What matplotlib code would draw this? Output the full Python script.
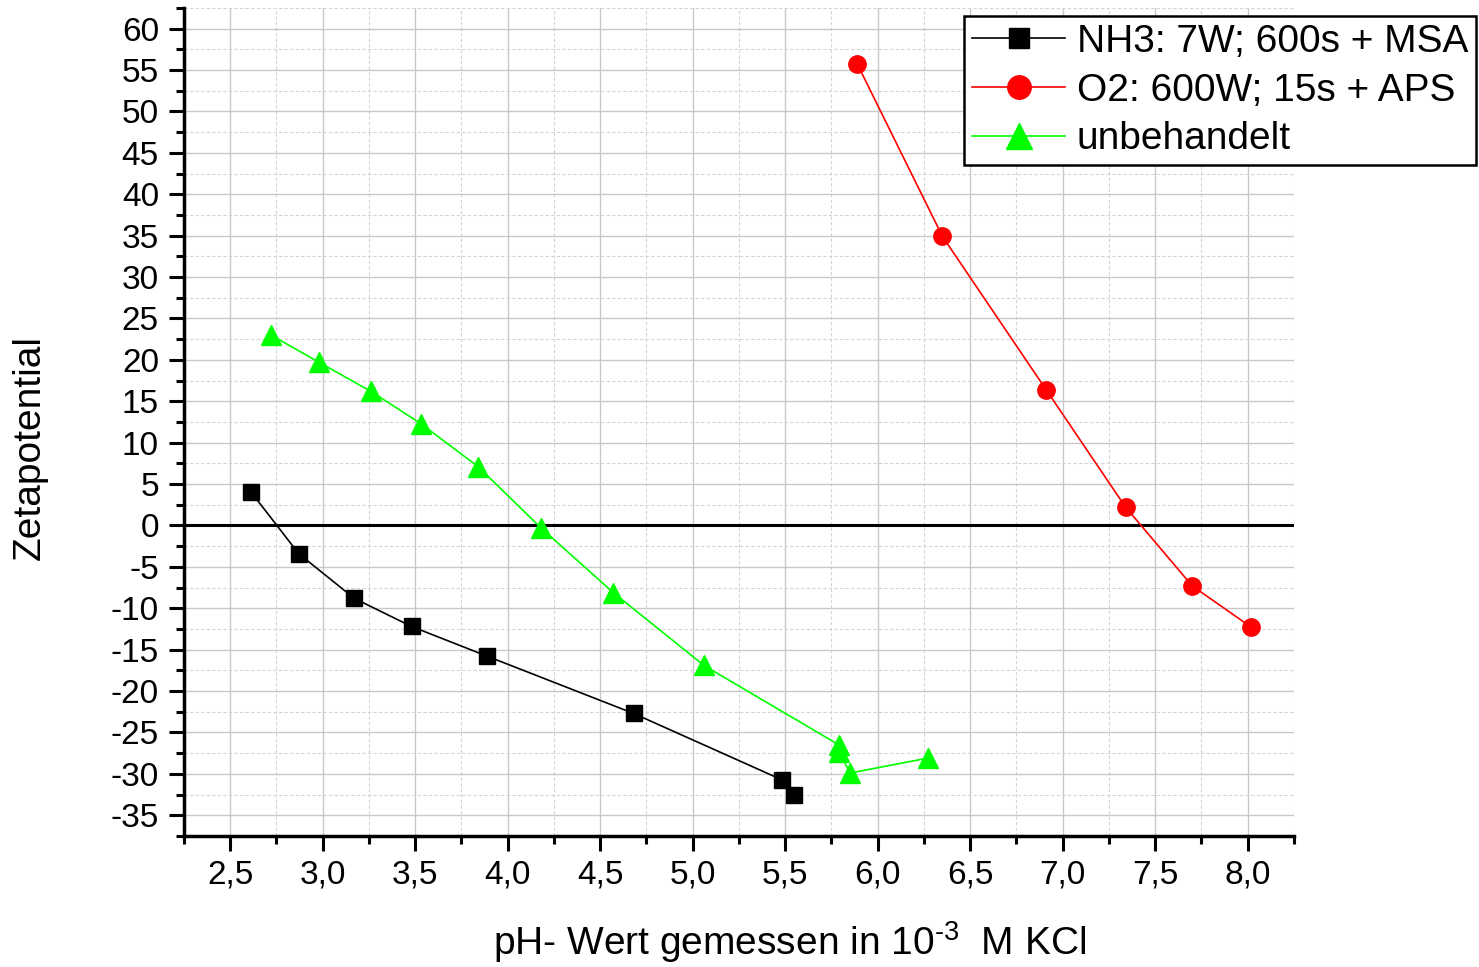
import matplotlib
matplotlib.use('Agg')
import matplotlib.pyplot as plt
from matplotlib.ticker import MultipleLocator, FuncFormatter

plt.rcParams['font.family'] = ['Liberation Sans', 'DejaVu Sans']
plt.rcParams['mathtext.fontset'] = 'custom'
plt.rcParams['mathtext.rm'] = 'Liberation Sans'
plt.rcParams['mathtext.it'] = 'Liberation Sans:italic'

# NH3: 7W; 600s + MSA
nh3_x = [2.61, 2.87, 3.17, 3.48, 3.89, 4.68, 5.48, 5.55]
nh3_y = [4.1, -3.4, -8.8, -12.2, -15.8, -22.7, -30.7, -32.5]

# O2: 600W; 15s + APS
o2_x = [5.89, 6.35, 6.91, 7.34, 7.70, 8.02]
o2_y = [55.7, 34.9, 16.4, 2.2, -7.3, -12.3]

# unbehandelt
unb_x = [2.72, 2.98, 3.26, 3.53, 3.84, 4.18, 4.57, 5.06, 5.79, 5.79, 5.85, 6.27]
unb_y = [23.0, 19.7, 16.2, 12.3, 7.1, -0.3, -8.1, -16.9, -26.5, -27.3, -29.9, -28.1]

fig = plt.figure(figsize=(14.79, 9.67), dpi=100)
ax = fig.add_axes([0.1244, 0.1355, 0.7505, 0.8563])

ax.plot(nh3_x, nh3_y, color='black', lw=1.2, marker='s', ms=11,
        label='NH3: 7W; 600s + MSA', zorder=4)
ax.plot(o2_x, o2_y, color='red', lw=1.2, marker='o', ms=12.5,
        label='O2: 600W; 15s + APS', zorder=4)
ax.plot(unb_x, unb_y, color='#00ff00', lw=1.2, marker='^', ms=14,
        label='unbehandelt', zorder=4)

ax.axhline(0, color='black', lw=2.2, zorder=3)

ax.set_xlim(2.25, 8.25)
ax.set_ylim(-37.5, 62.5)
ax.xaxis.set_major_locator(MultipleLocator(0.5))
ax.xaxis.set_minor_locator(MultipleLocator(0.25))
ax.yaxis.set_major_locator(MultipleLocator(5))
ax.yaxis.set_minor_locator(MultipleLocator(2.5))
ax.xaxis.set_major_formatter(FuncFormatter(lambda v, p: f'{v:.1f}'.replace('.', ',')))
ax.yaxis.set_major_formatter(FuncFormatter(lambda v, p: f'{v:.0f}'))

ax.grid(True, which='major', color='#c8c8c8', lw=1.0, ls='-', zorder=0)
ax.grid(True, which='minor', color='#d4d4d4', lw=0.8, ls=(0, (3, 2)), zorder=0)
ax.set_axisbelow(True)

for s in ['top', 'right']:
    ax.spines[s].set_visible(False)
for s in ['left', 'bottom']:
    ax.spines[s].set_linewidth(2.5)

ax.tick_params(which='major', direction='out', length=11, width=2.2, labelsize=24)
ax.tick_params(which='minor', direction='out', length=6, width=2.2)
ax.tick_params(axis='x', which='major', pad=6)
ax.tick_params(axis='y', which='major', pad=7)

ax.set_xlabel(r'pH- Wert gemessen in 10$^{\text{-3}}$  M KCl', fontsize=28)
ax.xaxis.set_label_coords(0.546, -0.1)
ax.set_ylabel('Zetapotential', fontsize=28)
ax.yaxis.set_label_coords(-0.1225, 0.469)

leg = ax.legend(loc='upper right', bbox_to_anchor=(1476 / 1479, 1 - 16 / 967),
                bbox_transform=fig.transFigure, borderaxespad=0,
                fontsize=28, fancybox=False, edgecolor='black', framealpha=1,
                handlelength=2.4, handletextpad=0.3, borderpad=0.2,
                labelspacing=0.33, markerscale=1.35)
leg.get_frame().set_linewidth(1.8)

fig.savefig('out.png', dpi=100)
